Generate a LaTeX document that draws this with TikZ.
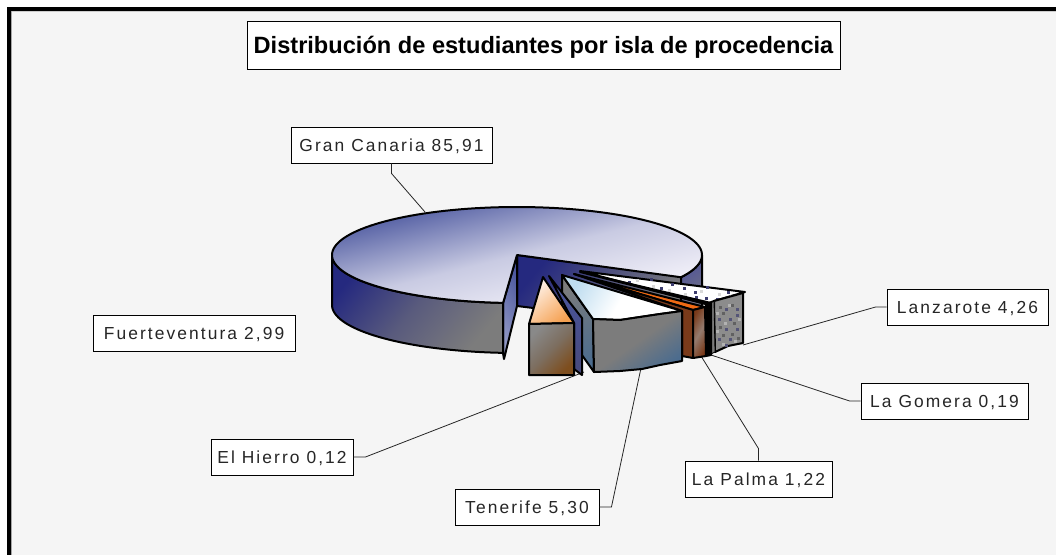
\documentclass[tikz,border=0pt]{standalone}
\usepackage{fontspec}
\setmainfont{Liberation Sans}
\newfontfamily\lblfont[LetterSpace=12]{Liberation Sans}
\definecolor{bgc}{HTML}{F5F5F5}
\definecolor{navy}{HTML}{25297F}
\definecolor{midblue}{HTML}{4A569E}
\definecolor{lilac}{HTML}{FAF8FD}
\definecolor{grayside}{HTML}{7C7C7C}
\definecolor{peach}{HTML}{FFF4EC}
\definecolor{orng}{HTML}{F5A050}
\definecolor{brn}{HTML}{7E4E1E}
\definecolor{slate}{HTML}{4C6C8E}
\definecolor{skyb}{HTML}{BFDDF0}
\definecolor{dbrown}{HTML}{7A3A1A}
\definecolor{hotor}{HTML}{F06A14}
\definecolor{texg}{HTML}{8C8C8C}
\definecolor{dotc}{HTML}{3C3C6E}
\tikzset{
  lbl/.style={draw=black,fill=white,line width=0.9pt,inner sep=0pt,minimum height=36pt,text height=12.5pt,text depth=0pt,font=\lblfont\fontsize{17.4}{19}\selectfont,text=black!85},
  leader/.style={draw=black!85,line width=0.8pt},
  pie/.style={draw=black,line width=2pt,line join=round}
}
\begin{document}
\begin{tikzpicture}[x=1pt,y=-1pt]
\useasboundingbox (0,0) rectangle (1056,555);
\fill[white] (0,0) rectangle (1056,555);
\fill[bgc] (9,9) rectangle (1056,555);
\fill[black] (7,7) rectangle (1056,11);
\fill[black] (7,7) rectangle (11,555);
\fill[black!35] (11,11) rectangle (12,555);
\fill[black!20] (12,11) rectangle (1056,12);

\node[draw=black,fill=white,line width=0.9pt,inner sep=0pt,minimum width=593pt,minimum height=48pt,text height=17pt,text depth=0pt,font=\bfseries\fontsize{23.6}{26}\selectfont] (title) at (543.5,45) {Distribución de estudiantes por isla de procedencia};
\node[lbl,minimum width=201pt] (gc) at (391.5,145) {Gran Canaria 85,91};
\node[lbl,minimum width=202pt] (fv) at (194,333) {Fuerteventura 2,99};
\node[lbl,minimum width=161pt] (lz) at (967.5,307) {Lanzarote 4,26};
\node[lbl,minimum width=167pt] (lg) at (944.5,401) {La Gomera 0,19};
\node[lbl,minimum width=147pt] (lp) at (758.5,479) {La Palma 1,22};
\node[lbl,minimum width=142pt] (eh) at (282,457) {El Hierro 0,12};
\node[lbl,minimum width=144pt] (tf) at (527,507) {Tenerife 5,30};

\coordinate (gcA) at (425,212);
\coordinate (lzA) at (743,345);
\coordinate (lgA) at (708,354);
\coordinate (lpA) at (701,356);
\coordinate (ehA) at (584,372);
\coordinate (tfA) at (641,368);
\draw[leader] (gc.south) -- ++(0,10) -- (gcA);
\draw[leader] (lz.west) -- ++(-11,0) -- (lzA);
\draw[leader] (lg.west) -- ++(-11,0) -- (lgA);
\draw[leader] (lp.north) -- ++(0,-12) -- (lpA);
\draw[leader] (eh.east) -- ++(12,0) -- (ehA);
\draw[leader] (tf.east) -- ++(12,0) -- (tfA);

% --- Gran Canaria slice ---
\path[pie,top color=navy!80!white,bottom color=grayside,shading angle=35]
  plot[domain=27.6:0,samples=12] ({517+185*cos(\x)},{255+48*sin(\x)}) -- (702,305) -- (681,326) -- cycle;
\path[pie,top color=navy,bottom color=grayside,shading angle=50]
  (517,255) -- (681,276) -- (681,326) -- (517,306) -- cycle;
\path[pie,top color=midblue,bottom color=midblue!60!white,shading angle=-60]
  (503,303) -- (517,255) -- (517,306) -- (504,359) -- (503,353) -- cycle;
\path[pie,top color=navy,bottom color=grayside,shading angle=50,middle color=grayside!60!navy]
  plot[domain=94.3:180,samples=40] ({517+185*cos(\x)},{255+48*sin(\x)})
  -- plot[domain=180:94.3,samples=40] ({517+185*cos(\x)},{305+48*sin(\x)}) -- cycle;
\path[pie,top color=midblue,bottom color=lilac,middle color=midblue!28!lilac,shading angle=14]
  plot[domain=27.6:-265.7,samples=120] ({517+185*cos(\x)},{255+48*sin(\x)})
  -- (517,255) -- cycle;

% --- Lanzarote ---
\path[pie,fill=white] (580,271) -- (745,292) -- (714,301) -- (706,304) -- cycle;
\foreach \px/\py in {628/281,660/287,695/296,705/297,727/291,683/287,716/298,650/278,671/283,694/291,706/286}
  \fill[dotc] (\px,\py) rectangle ++(3,3);
\foreach \px/\py in {636/279,652/285,668/289,684/293,700/290,718/293,730/295}
  \fill[black!15] (\px,\py) rectangle ++(3,3);
\path[pie,fill=texg] (714,301) -- (743,293) -- (743,343) -- (728,346) -- (715,352) -- cycle;
\foreach \px/\py in {725/308,736/308,718/318,729/318,725/328,736/328,718/338,729/338,736/314,725/344}
  \fill[dotc!70!texg] (\px,\py) rectangle ++(3,3);
\foreach \px/\py in {719/306,731/304,722/312,733/322,719/326,731/333,737/337,722/334}
  \fill[black!62] (\px,\py) rectangle ++(3,3);
\foreach \px/\py in {728/304,716/312,738/318,724/322,716/330,734/340,722/343}
  \fill[black!30] (\px,\py) rectangle ++(3,3);
\path[draw=black,line width=0.8pt,fill=grayside] (711,303) -- (714,301) -- (715,352) -- (711,354) -- cycle;
% --- La Gomera ---
\path[pie,fill=black] (580,272) -- (711,303) -- (711,355) -- (706,356) -- (706,304) -- cycle;
% --- La Palma ---
\path[pie,fill=hotor] (574,274) -- (705,307) -- (693,310) -- cycle;
\path[pie,fill=dbrown] (574,274) -- (693,310) -- (693,358) -- (682,356) -- (682,311) -- cycle;
\path[pie,top color=dbrown,bottom color=dbrown,middle color=black!35!white!60!dbrown,shading angle=60]
  (693,310) -- (705,307) -- (706,356) -- (693,358) -- cycle;
% --- Tenerife ---
\path[pie,top color=grayside,bottom color=slate,shading angle=20]
  (562,275) -- (593,319) -- (594,372) -- (562,327) -- cycle;
\path[pie,top color=white,bottom color=skyb,middle color=white,shading angle=-120]
  (562,275) -- (682,311) -- (660,314) -- (640,317) -- (620,320) -- (593,319) -- cycle;
\path[pie,top color=grayside,bottom color=slate,middle color=grayside,shading angle=35]
  (593,319) -- (620,320) -- (640,317) -- (660,314) -- (682,311) -- (682,361) -- (660,365) -- (642,369) -- (620,371) -- (594,372) -- cycle;
% --- Fuerteventura / El Hierro ---
\path[pie,top color=midblue,bottom color=navy!60!grayside,shading angle=10]
  (549,276) -- (582,318) -- (582,375) -- (574,369) -- (574,323) -- cycle;
\path[pie,top color=peach,bottom color=orng,shading angle=40]
  (543,277) -- (574,323) -- (529,324) -- cycle;
\path[pie,top color=grayside!90!white,bottom color=brn,middle color=grayside!70!brn,shading angle=45]
  (529,324) -- (574,323) -- (574,375) -- (529,375) -- cycle;
\end{tikzpicture}
\end{document}
